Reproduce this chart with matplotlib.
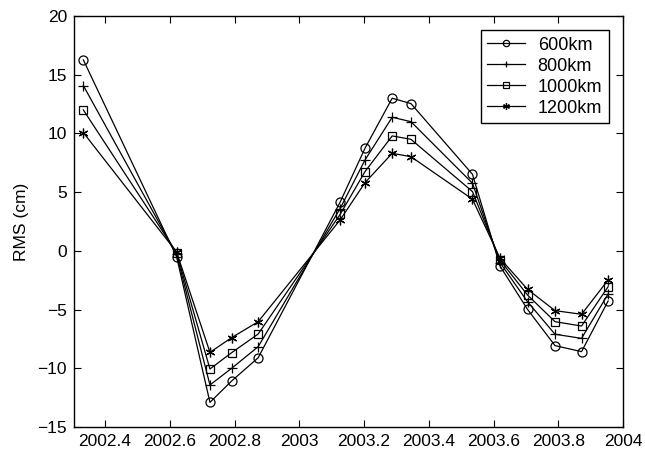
import matplotlib
matplotlib.use("Agg")
import matplotlib.pyplot as plt

plt.rcParams['font.family'] = ['Liberation Sans', 'DejaVu Sans']

# sample epochs (decimal year)
years = [2002.333, 2002.621, 2002.724, 2002.791, 2002.873, 2003.126, 2003.203,
         2003.287, 2003.345, 2003.535, 2003.620, 2003.705, 2003.790, 2003.872, 2003.954]

rms_600 = [16.26, -0.5, -12.9, -11.08, -9.1, 4.14, 8.74, 13.0, 12.54, 6.52,
           -1.29, -4.98, -8.07, -8.58, -4.27]
rms_800 = [14.07, -0.3, -11.42, -10.0, -8.16, 3.6, 7.74, 11.38, 11.0, 5.76,
           -1.0, -4.33, -7.1, -7.45, -3.67]
rms_1000 = [12.0, -0.15, -10.06, -8.67, -7.08, 3.1, 6.75, 9.79, 9.5, 5.05,
            -0.78, -3.76, -6.03, -6.4, -3.05]
rms_1200 = [10.07, -0.1, -8.64, -7.39, -6.03, 2.63, 5.81, 8.31, 8.02, 4.4,
            -0.63, -3.27, -5.09, -5.4, -2.48]

labels = ['600km', '800km', '1000km', '1200km']
# matlab style markers: circle, plus, square, asterisk (6 spokes)
markers = ['o', '+', 's', (6, 2, 0)]
sizes = [6.5, 7, 5.5, 7]

fig = plt.figure(figsize=(6.45, 4.55), dpi=100)
ax = fig.add_axes([0.1147, 0.0615, 0.8512, 0.9033])

for vals, lab, m, ms in zip([rms_600, rms_800, rms_1000, rms_1200], labels, markers, sizes):
    ax.plot(years, vals, color='black', linewidth=0.9, marker=m, markersize=ms,
            markerfacecolor='none', markeredgecolor='black', markeredgewidth=0.9,
            label=lab)

ax.set_xlim(2002.304, 2004)
ax.set_ylim(-15, 20)
ax.set_xticks([2002.4, 2002.6, 2002.8, 2003, 2003.2, 2003.4, 2003.6, 2003.8, 2004])
ax.set_xticklabels(['2002.4', '2002.6', '2002.8', '2003', '2003.2', '2003.4',
                    '2003.6', '2003.8', '2004'])
ax.set_yticks(range(-15, 21, 5))
ax.tick_params(direction='in', top=True, right=True, length=5, width=0.8,
               labelsize=12.5, pad=5)
for sp in ax.spines.values():
    sp.set_linewidth(1.0)
ax.set_ylabel('RMS (cm)', fontsize=12.5, labelpad=6)

leg = ax.legend(loc='upper right', fontsize=13, handlelength=2.1,
                markerscale=0.7, fancybox=False, edgecolor='black',
                framealpha=1, borderaxespad=0.8, labelspacing=0.22,
                handletextpad=0.7, borderpad=0.35)
leg.get_frame().set_linewidth(1.0)

fig.savefig('out.png', dpi=100)
